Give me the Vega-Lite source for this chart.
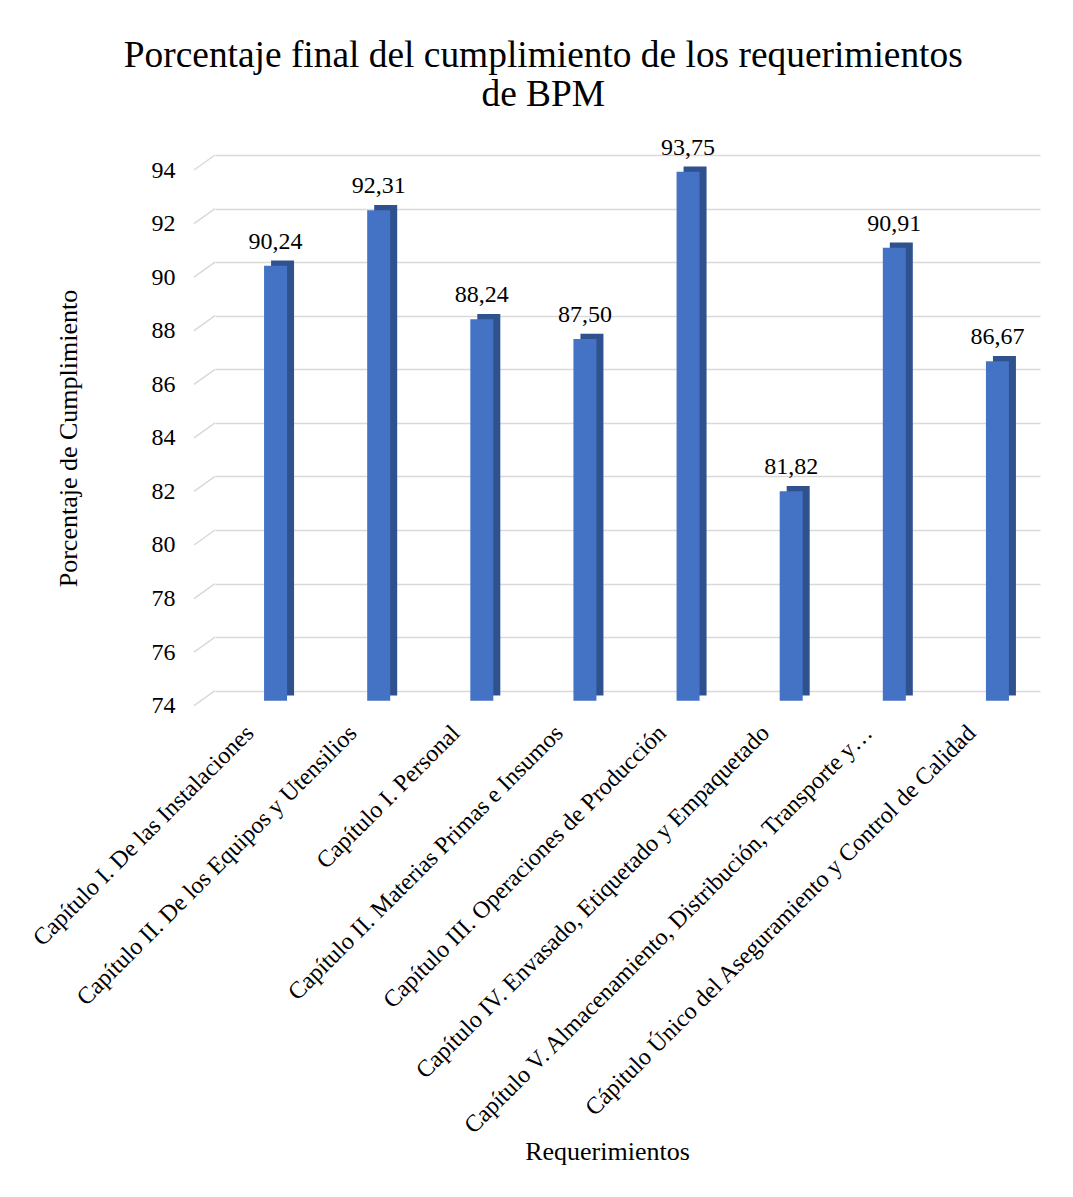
{
  "$schema": "https://vega.github.io/schema/vega-lite/v6.json",
  "width": 825,
  "height": 535.7,
  "autosize": {"type": "none"},
  "padding": {"left": 215, "top": 155, "right": 33, "bottom": 506.3},
  "background": "white",
  "config": {
    "view": {"stroke": null},
    "font": "Liberation Serif",
    "locale": {"number": {"decimal": ",", "thousands": ".", "grouping": [3], "currency": ["", " €"]}}
  },
  "title": {
    "text": ["Porcentaje final del cumplimiento de los requerimientos", "de BPM"],
    "fontSize": 37.4,
    "font": "Liberation Serif",
    "fontWeight": "normal",
    "color": "black",
    "anchor": "middle",
    "frame": "bounds",
    "lineHeight": 39,
    "offset": 22,
    "dx": 9
  },
  "datasets": {
    "grid": [{"v": 74}, {"v": 76}, {"v": 78}, {"v": 80}, {"v": 82}, {"v": 84}, {"v": 86}, {"v": 88}, {"v": 90}, {"v": 92}, {"v": 94}]
  },
  "data": {
    "values": [
      {"req": "Capítulo I. De las Instalaciones", "val": 90.24},
      {"req": "Capítulo II. De los Equipos y Utensilios", "val": 92.31},
      {"req": "Capítulo I. Personal", "val": 88.24},
      {"req": "Capítulo II. Materias Primas e Insumos", "val": 87.50},
      {"req": "Capítulo III. Operaciones de Producción", "val": 93.75},
      {"req": "Capítulo IV. Envasado, Etiquetado y Empaquetado", "val": 81.82},
      {"req": "Capítulo V. Almacenamiento, Distribución, Transporte y…", "val": 90.91},
      {"req": "Cápitulo Único del Aseguramiento y Control de Calidad", "val": 86.67}
    ]
  },
  "layer": [
    {
      "mark": {"type": "bar", "width": 23, "color": "#2F528F", "xOffset": 16, "yOffset": 4.7, "y2Offset": 4.7},
      "encoding": {
        "x": {
          "field": "req", "type": "nominal", "sort": null,
          "scale": {"paddingInner": 0, "paddingOuter": 0},
          "axis": {
            "title": "Requerimientos",
            "titleFontSize": 26, "titleFont": "Liberation Serif", "titleFontWeight": "normal", "titleColor": "black",
            "titleX": 392, "titleY": 469, "titleBaseline": "alphabetic",
            "labelAngle": -45, "labelFontSize": 24, "labelFont": "Liberation Serif", "labelColor": "black",
            "labelLimit": 800, "labelPadding": 30, "labelOffset": -25,
            "ticks": false, "domain": false
          }
        },
        "y": {
          "field": "val", "type": "quantitative", "title": "Porcentaje de Cumplimiento",
          "scale": {"domain": [74, 94], "nice": false, "zero": false},
          "axis": {
            "values": [74, 76, 78, 80, 82, 84, 86, 88, 90, 92, 94],
            "titleFontSize": 26, "titleFont": "Liberation Serif", "titleFontWeight": "normal", "titleColor": "black",
            "titlePadding": 70, "titleY": 283,
            "labelFontSize": 24, "labelFont": "Liberation Serif", "labelColor": "black",
            "labelOffset": 15, "labelPadding": 40,
            "ticks": false, "domain": false,
            "grid": true, "gridColor": "#D9D9D9", "gridWidth": 1.5
          }
        },
        "y2": {"datum": 74}
      }
    },
    {
      "mark": {"type": "bar", "width": 23, "color": "#4472C4", "xOffset": 9, "yOffset": 10, "y2Offset": 10},
      "encoding": {
        "x": {"field": "req", "type": "nominal", "sort": null},
        "y": {"field": "val", "type": "quantitative", "title": "Porcentaje de Cumplimiento"},
        "y2": {"datum": 74}
      }
    },
    {
      "mark": {"type": "text", "fontSize": 24, "font": "Liberation Serif", "color": "black", "xOffset": 9, "yOffset": -7, "baseline": "alphabetic"},
      "encoding": {
        "x": {"field": "req", "type": "nominal", "sort": null},
        "y": {"field": "val", "type": "quantitative", "title": "Porcentaje de Cumplimiento"},
        "text": {"field": "val", "type": "quantitative", "format": ".2f"}
      }
    },
    {
      "data": {"name": "grid"},
      "mark": {"type": "rule", "color": "#D9D9D9", "strokeWidth": 1.5, "xOffset": -21, "yOffset": 15, "x2Offset": -51.56, "y2Offset": 0},
      "encoding": {
        "x": {"datum": "Capítulo I. De las Instalaciones", "bandPosition": 0},
        "x2": {"datum": "Capítulo I. De las Instalaciones"},
        "y": {"field": "v", "type": "quantitative", "title": "Porcentaje de Cumplimiento"},
        "y2": {"field": "v"}
      }
    }
  ]
}
